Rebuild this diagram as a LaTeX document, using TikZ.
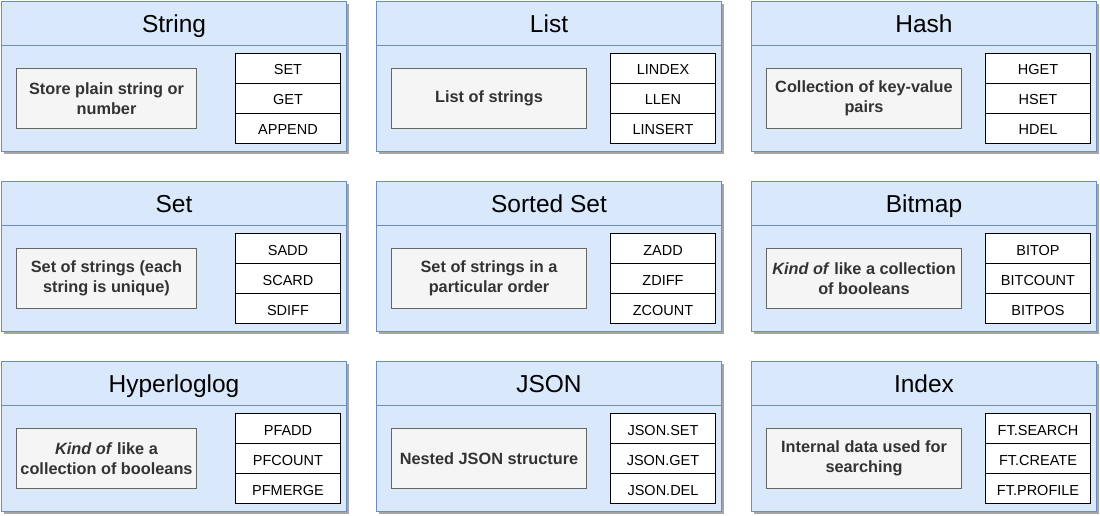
\documentclass[tikz,border=0pt]{standalone}
\usepackage{fontspec}
\setmainfont{Liberation Sans}
\definecolor{panelfill}{HTML}{DAE8FC}
\definecolor{paneldraw}{HTML}{6C8EBF}
\definecolor{descfill}{HTML}{F5F5F5}
\definecolor{descdraw}{HTML}{666666}
\definecolor{desctext}{HTML}{333333}
\definecolor{shadowc}{HTML}{A6A6A6}
\tikzset{
  panelbox/.style={draw=paneldraw, fill=panelfill, line width=1pt, minimum width=345pt, minimum height=150pt, anchor=north west, inner sep=0pt},
  headerbox/.style={draw=paneldraw, line width=1pt, minimum width=345pt, minimum height=44pt, anchor=north west, inner sep=0pt, text height=18pt, text depth=0pt, font=\fontsize{24.5}{29}\selectfont},
  descbox/.style={draw=descdraw, fill=descfill, line width=1pt, minimum height=60pt, anchor=north west, inner sep=0pt, align=center, text=desctext, font=\fontsize{16.3}{19.5}\selectfont\bfseries},
  cmdbox/.style={draw=black, fill=white, line width=1pt, minimum width=105pt, minimum height=30pt, anchor=north west, inner sep=0pt, text height=13pt, text depth=0pt, font=\fontsize{14.5}{17}\selectfont},
}
\newcommand\drawpanel[9]{%
  \fill[shadowc] (#2+3,#3+3) rectangle ++(345,150);
  \node[panelbox] (#1) at (#2,#3) {};
  \node[headerbox] (#1h) at (#2,#3) {#4};
  \node[descbox, minimum width=#5pt] (#1d) at (#2+15,#3+67) {#6};
  \node[cmdbox] (#1a) at (#2+234,#3+52) {#7};
  \node[cmdbox] (#1b) at (#2+234,#3+82) {#8};
  \node[cmdbox] (#1c) at (#2+234,#3+112) {#9};
}
\begin{document}
\begin{tikzpicture}[x=1pt,y=-1pt]
\useasboundingbox (0,0) rectangle (1100,516);
\drawpanel{string}{1}{1}{String}{180}{Store plain string or\\number}{SET}{GET}{APPEND}
\drawpanel{list}{376}{1}{List}{195}{List of strings}{LINDEX}{LLEN}{LINSERT}
\drawpanel{hash}{751}{1}{Hash}{195}{Collection of key-value\\pairs}{HGET}{HSET}{HDEL}
\drawpanel{set}{1}{181}{Set}{180}{Set of strings (each\\string is unique)}{SADD}{SCARD}{SDIFF}
\drawpanel{zset}{376}{181}{Sorted Set}{195}{Set of strings in a\\particular order}{ZADD}{ZDIFF}{ZCOUNT}
\drawpanel{bitmap}{751}{181}{Bitmap}{195}{\textit{Kind of} like a collection\\of booleans}{BITOP}{BITCOUNT}{BITPOS}
\drawpanel{hll}{1}{361}{Hyperloglog}{180}{\textit{Kind of} like a\\collection of booleans}{PFADD}{PFCOUNT}{PFMERGE}
\drawpanel{json}{376}{361}{JSON}{195}{Nested JSON structure}{JSON.SET}{JSON.GET}{JSON.DEL}
\drawpanel{index}{751}{361}{Index}{195}{Internal data used for\\searching}{FT.SEARCH}{FT.CREATE}{FT.PROFILE}
\end{tikzpicture}
\end{document}
